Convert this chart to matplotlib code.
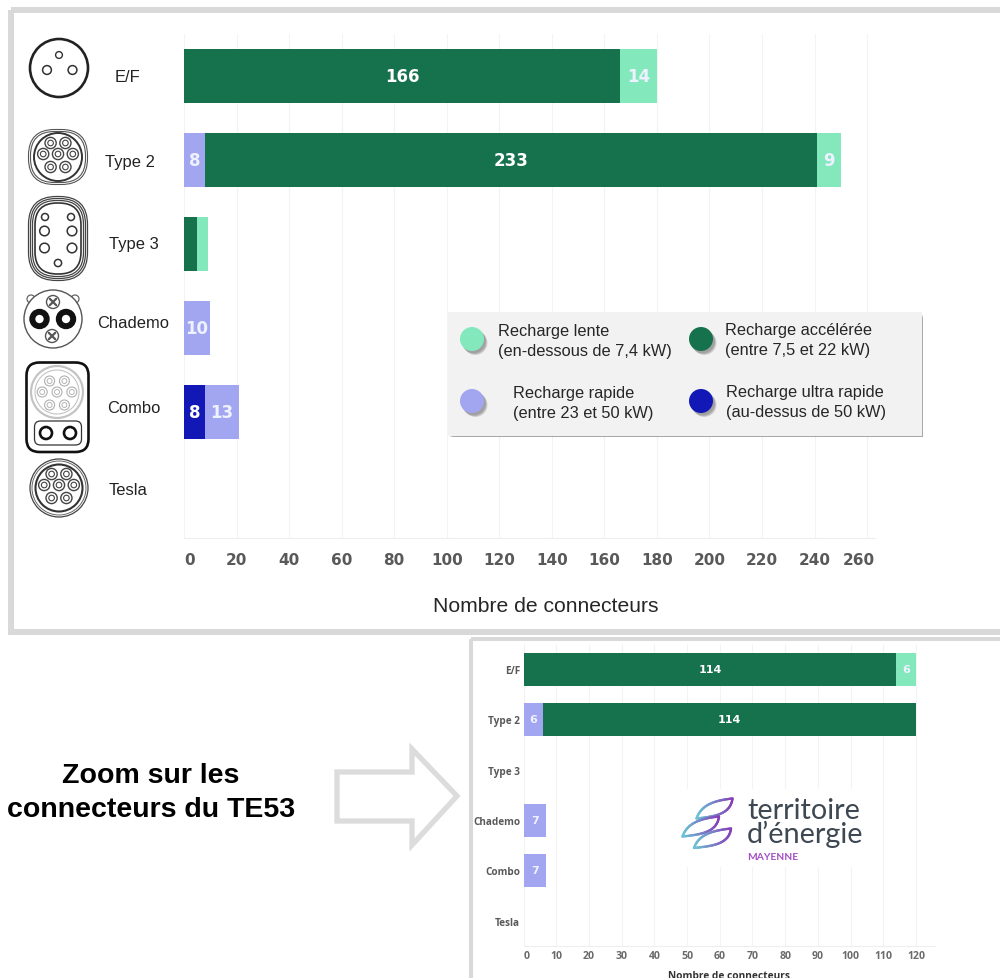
import numpy as np
from matplotlib import pyplot as plt
from matplotlib.collections import LineCollection
from matplotlib.patches import Circle, FancyBboxPatch, Polygon, Rectangle
from matplotlib.transforms import ScaledTranslation

FIG_W = 1000
FIG_H = 979

# connector types, same order in both charts
connectors = ["E/F", "Type 2", "Type 3", "Chademo", "Combo", "Tesla"]

# all of Pays de la Loire
ultra = [0, 0, 0, 0, 8, 0]
rapid = [0, 8, 0, 10, 13, 0]
accel = [166, 233, 5, 0, 0, 0]
slow = [14, 9, 4, 0, 0, 0]
main_ticks = list(range(0, 261, 20))

# zoom on TE53
te53_ultra = [0, 0, 0, 0, 0, 0]
te53_rapid = [0, 6, 0, 7, 7, 0]
te53_accel = [114, 114, 0, 0, 0, 0]
te53_slow = [6, 0, 0, 0, 0, 0]
te53_ticks = list(range(0, 121, 10))

SLOW_COL = "#84e8bd"
ACCEL_COL = "#16714d"
RAPID_COL = "#a2a6f0"
ULTRA_COL = "#1218b5"
GRID_COL = "#f3f3f3"
FRAME_COL = "#d9d9d9"
TICK_COL = "#595959"

legend_rows = [
    (472, 340, SLOW_COL, 498, 331, "Recharge lente", "(en-dessous de 7,4 kW)"),
    (701, 340, ACCEL_COL, 725, 330, "Recharge accélérée", "(entre 7,5 et 22 kW)"),
    (472, 402, RAPID_COL, 513, 393, "Recharge rapide", "(entre 23 et 50 kW)"),
    (701, 402, ULTRA_COL, 726, 392, "Recharge ultra rapide", "(au-dessus de 50 kW)"),
]


def px_axes(fig, left, top, right, bottom):
    return fig.add_axes([left / FIG_W, 1 - bottom / FIG_H, (right - left) / FIG_W, (bottom - top) / FIG_H])


def draw_stack(ax, series, height, label_size, min_label):
    y = np.arange(len(connectors))
    left = np.zeros(len(connectors))
    for values, col in series:
        values = np.array(values, dtype=float)
        ax.barh(y, values, height=height, left=left, color=col, zorder=3, linewidth=0)
        # numbers on the pale segments are a touch softer than on the dark ones
        txt_col = "#eef1ff" if col in (SLOW_COL, RAPID_COL) else "white"
        for i, v in enumerate(values):
            if v >= min_label:
                ax.text(left[i] + v / 2, y[i], str(int(v)), color=txt_col, ha="center", va="center",
                        fontsize=label_size, fontweight="bold", zorder=4)
        left = left + values
    ax.set_ylim(len(connectors) - 0.5, -0.5)


def style_axis(ax, ticks, xmax, col=GRID_COL):
    ax.set_xlim(0, xmax)
    ax.set_xticks(ticks)
    ax.grid(axis="x", color=col, linewidth=0.8, zorder=0)
    ax.grid(axis="y", visible=False)
    for side in ["top", "left", "right"]:
        ax.spines[side].set_visible(False)
    ax.spines["bottom"].set_color("#eeeeee")
    ax.tick_params(length=0)
    ax.patch.set_alpha(0)


def ring(o, x, y, r, lw=1.0, ec="#333333", fc="none"):
    o.add_patch(Circle((x, y), r, fill=fc != "none", facecolor=fc, edgecolor=ec, linewidth=lw))


def round_box(o, x0, y0, x1, y1, rad, lw, ec="#222222", fc="none"):
    o.add_patch(FancyBboxPatch((x0 + rad, y0 + rad), x1 - x0 - 2 * rad, y1 - y0 - 2 * rad,
                               boxstyle="round,pad=%f,rounding_size=%f" % (rad, rad),
                               fill=fc != "none", facecolor=fc, edgecolor=ec, linewidth=lw))


def seven_pins(o, cx, cy, col="#444444", outer=5.6, lw=1.0):
    # the 7 contacts of a type 2 plug
    for dx, dy in [(-7.4, -14), (7.4, -14), (-14.8, -3), (0, -3), (14.8, -3), (-7.4, 10), (7.4, 10)]:
        ring(o, cx + dx, cy + dy, outer, lw, col)
        ring(o, cx + dx, cy + dy, outer * 0.5, lw * 0.8, col)


def cross_pin(o, x, y):
    ring(o, x, y, 6.5, 1.0, "#555555", "white")
    d = 3.2
    o.plot([x - d, x + d], [y - d, y + d], color="#555555", lw=1.6, solid_capstyle="round")
    o.plot([x - d, x + d], [y + d, y - d], color="#555555", lw=1.6, solid_capstyle="round")


def draw_icons(o):
    # E/F
    ring(o, 59, 69, 29, 1.9, "#222222")
    ring(o, 59, 56, 3.4, 1.0)
    ring(o, 47, 71, 4.4, 1.1)
    ring(o, 72.5, 71, 4.4, 1.1)

    # Type 2
    round_box(o, 28.5, 130.5, 87.5, 185.5, 26, 0.8, "#555555")
    round_box(o, 30.5, 132.5, 85.5, 183.5, 24, 0.8, "#555555")
    ring(o, 58, 158, 24, 1.4, "#333333")
    seven_pins(o, 58, 158)

    # Type 3
    for pad, lw in [(0, 0.9), (2, 0.9), (4, 0.9)]:
        round_box(o, 28.5 + pad, 197.5 + pad, 87.5 - pad, 281.5 - pad, 28 - pad, lw, "#444444")
    round_box(o, 35, 204, 81, 275, 22, 1.2, "#333333")
    for x, y, r in [(45, 218, 3.5), (71, 218, 3.5), (44.5, 232, 4.8), (72, 232, 4.8),
                    (44.5, 249, 4.8), (72, 249, 4.8), (58, 264, 3.6)]:
        ring(o, x, y, r, 1.1)

    # Chademo
    for x in [31, 75]:
        ring(o, x, 300, 4, 0.9, "#666666")
    ring(o, 53, 320, 29, 1.0, "#555555", "white")
    for x in [39.5, 66]:
        ring(o, x, 320, 7.2, 4.3, "#111111", "white")
    cross_pin(o, 53, 303)
    cross_pin(o, 52, 337)

    # Combo
    round_box(o, 26.5, 363.5, 88.5, 453, 13, 1.9, "#111111")
    ring(o, 57, 393, 26, 1.6, "#c4c4c4")
    ring(o, 57, 393, 22, 0.8, "#c4c4c4")
    seven_pins(o, 57, 396, "#b0b0b0", 5.0, 0.8)
    round_box(o, 34.5, 422, 81.5, 446, 6, 0.9, "#333333")
    for x in [46, 70]:
        ring(o, x, 434, 6, 1.9, "#111111")

    # Tesla
    ring(o, 59, 489, 29, 0.9, "#444444")
    ring(o, 59, 489, 27, 0.7, "#666666")
    ring(o, 59, 489, 23.5, 1.5, "#333333")
    seven_pins(o, 59, 489)


def draw_legend(o):
    for i in range(4):
        o.add_patch(Rectangle((450 + i, 316 + i), 473 - i, 122 - i, facecolor="#555555", alpha=0.16, linewidth=0))
    o.add_patch(Rectangle((448, 313), 474, 124, facecolor="#f2f2f2", linewidth=0))
    for cx, cy, col, tx, ty, line1, line2 in legend_rows:
        for i in range(4):
            o.add_patch(Circle((cx + 3.5 - i * 0.6, cy + 4 - i * 0.6), 12, facecolor="#555555", alpha=0.16, linewidth=0))
        o.add_patch(Circle((cx, cy), 12, facecolor=col, linewidth=0))
        o.text(tx, ty + 1, line1, fontsize=11.8, color="#262626", va="center", family="Liberation Sans")
        o.text(tx, ty + 21, line2, fontsize=11.8, color="#262626", va="center", family="Liberation Sans")


def bezier(p0, p1, p2, p3, n=40):
    t = np.linspace(0, 1, n)[:, None]
    p0, p1, p2, p3 = [np.array(p, dtype=float) for p in (p0, p1, p2, p3)]
    return (1 - t) ** 3 * p0 + 3 * (1 - t) ** 2 * t * p1 + 3 * (1 - t) * t ** 2 * p2 + t ** 3 * p3


def draw_logo(o):
    o.add_patch(Rectangle((676, 790), 196, 78, facecolor="white", linewidth=0))
    teal = np.array([0.42, 0.78, 0.84])
    purple = np.array([0.53, 0.24, 0.72])
    # each petal is two curves between its left and right tips
    for lx, ly, rx, ry in [(696.5, 819.5, 732.5, 799.5), (682.5, 837.5, 719, 817.5), (694, 849, 731, 829.5)]:
        top = bezier((lx, ly), (lx + 5, ly - 14), (rx - 18, ry + 2), (rx, ry))
        low = bezier((rx, ry), (rx - 2, ry + 16), (lx + 18, ly - 2), (lx, ly))
        pts = np.vstack([top, low])
        segs = np.stack([pts[:-1], pts[1:]], axis=1)
        frac = np.clip((segs[:, 0, 0] - lx) / (rx - lx), 0, 1)[:, None]
        cols = teal * (1 - frac) + purple * frac
        o.add_collection(LineCollection(segs, colors=cols, linewidths=1.7, capstyle="round"))
    o.text(747, 819, "territoire", fontsize=20.8, color="#3e4852", family="Lato", va="baseline")
    o.text(747, 843, "d’énergie", fontsize=20.8, color="#3e4852", family="Lato", va="baseline")
    o.text(747, 858, "MAYENNE", fontsize=7.4, color="#a450c4", family="Lato", fontweight="bold", va="center")


fig = plt.figure(figsize=(FIG_W / 100, FIG_H / 100), dpi=100)
fig.patch.set_facecolor("white")

# main chart
ax = px_axes(fig, 184, 35, 875, 539)
draw_stack(ax, [(ultra, ULTRA_COL), (rapid, RAPID_COL), (accel, ACCEL_COL), (slow, SLOW_COL)], 0.643, 12, 6)
style_axis(ax, main_ticks, 263)
ax.set_yticks([])
ax.set_xticklabels([str(t) for t in main_ticks], fontsize=11, fontweight="bold", color=TICK_COL, family="DejaVu Sans")
ax.tick_params(axis="x", pad=10)
xlabels = ax.get_xticklabels()
xlabels[0].set_ha("left")
xlabels[-1].set_ha("right")
# last tick label runs on to the end of the axis line
xlabels[-1].set_transform(xlabels[-1].get_transform() + ScaledTranslation(8 / 100, 0, fig.dpi_scale_trans))
ax.set_xlabel("Nombre de connecteurs", fontsize=15.2, color="#262626", family="Liberation Sans", labelpad=0)
ax.xaxis.set_label_coords((546 - 184) / 691, -(607 - 539) / 504, transform=ax.transAxes)
ax.xaxis.label.set_va("center")

# TE53 chart
ax2 = px_axes(fig, 523.5, 645, 935, 947)
draw_stack(ax2, [(te53_ultra, ULTRA_COL), (te53_rapid, RAPID_COL), (te53_accel, ACCEL_COL), (te53_slow, SLOW_COL)], 0.655, 8, 6)
style_axis(ax2, te53_ticks, 125.8)
ax2.set_yticks(np.arange(len(connectors)))
ax2.set_yticklabels(connectors, fontsize=7.2, fontweight="bold", color=TICK_COL, family="Open Sans")
ax2.set_xticklabels([str(t) for t in te53_ticks], fontsize=7.6, fontweight="bold", color="#6a6a6a", family="Open Sans")
ax2.get_xticklabels()[0].set_ha("left")
ax2.tick_params(axis="x", pad=3)
ax2.tick_params(axis="y", pad=2.4)
ax2.set_xlabel("Nombre de connecteurs", fontsize=7.3, fontweight="bold", color="#333333", family="Open Sans")
ax2.xaxis.set_label_coords((729 - 523.5) / 411.5, -(977 - 947) / 302, transform=ax2.transAxes)
ax2.xaxis.label.set_va("center")

# everything that isn't a bar sits on a full figure layer in pixel coordinates
o = fig.add_axes([0, 0, 1, 1], zorder=5)
o.set_xlim(0, FIG_W)
o.set_ylim(FIG_H, 0)
o.axis("off")
o.patch.set_alpha(0)

o.add_patch(Rectangle((10.5, 10.5), 1010, 622, fill=False, edgecolor=FRAME_COL, linewidth=4.3))
o.add_patch(Rectangle((471, 640), 560, 360, fill=False, edgecolor=FRAME_COL, linewidth=2.9))

draw_icons(o)

icon_labels = [(127, 77), (130, 163), (134, 244), (133, 324), (134, 409), (128, 491)]
for name, (x, y) in zip(connectors, icon_labels):
    o.text(x, y, name, fontsize=11.9, color="#222222", ha="center", va="center", family="Liberation Sans")

draw_legend(o)
draw_logo(o)

o.text(151, 776, "Zoom sur les", fontsize=20.5, fontweight="bold", color="black", ha="center", va="center", family="Liberation Sans")
o.text(151, 810, "connecteurs du TE53", fontsize=20.5, fontweight="bold", color="black", ha="center", va="center", family="Liberation Sans")

arrow = [(337, 773), (412, 773), (412, 750), (457, 797), (412, 846), (412, 822), (337, 822)]
o.add_patch(Polygon(arrow, closed=True, fill=False, edgecolor="#dcdcdc", linewidth=3.8, joinstyle="miter"))

fig.savefig("out.png", dpi=100)
